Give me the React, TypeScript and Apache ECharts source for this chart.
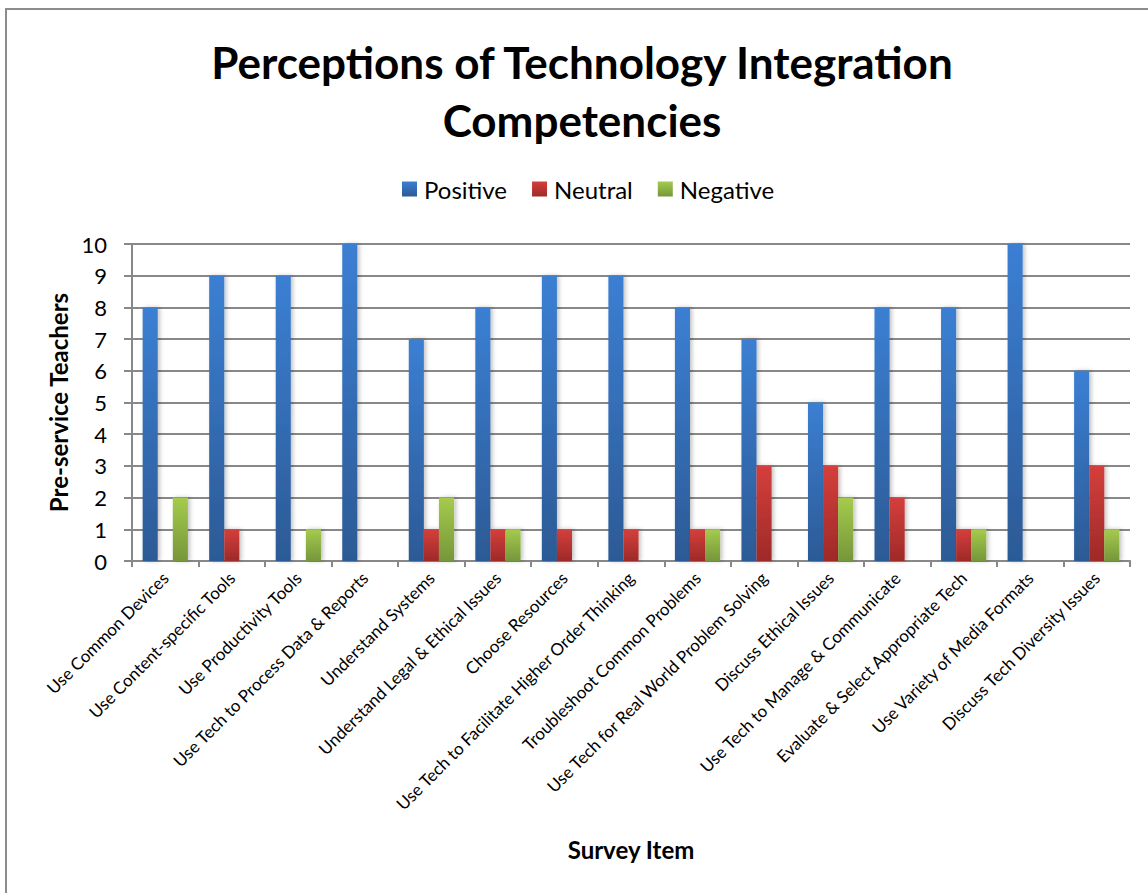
import React, { useEffect, useRef } from "react";
import * as echarts from "echarts";

const categories = [
  "Use Common Devices",
  "Use Content-specific Tools",
  "Use Productivity Tools",
  "Use Tech to Process Data & Reports",
  "Understand Systems",
  "Understand Legal & Ethical Issues",
  "Choose Resources",
  "Use Tech to Facilitate Higher Order Thinking",
  "Troubleshoot Common Problems",
  "Use Tech for Real World Problem Solving",
  "Discuss Ethical Issues",
  "Use Tech to Manage & Communicate",
  "Evaluate & Select Appropriate Tech",
  "Use Variety of Media Formats",
  "Discuss Tech Diversity Issues",
];
const positive = [8, 9, 9, 10, 7, 8, 9, 9, 8, 7, 5, 8, 8, 10, 6];
const neutral = [0, 1, 0, 0, 1, 1, 1, 1, 1, 3, 3, 2, 1, 0, 3];
const negative = [2, 0, 1, 0, 2, 1, 0, 0, 1, 0, 2, 0, 1, 0, 1];
const yTicks = [0, 1, 2, 3, 4, 5, 6, 7, 8, 9, 10];

const FONT = "Lato, 'Open Sans', sans-serif";

const grad = (top: string, bottom: string) =>
  new echarts.graphic.LinearGradient(0, 0, 0, 1, [
    { offset: 0, color: top },
    { offset: 1, color: bottom },
  ]);

export default function App() {
  const ref = useRef<HTMLDivElement>(null);
  useEffect(() => {
    if (!ref.current) return;
    const chart = echarts.init(ref.current, null, { renderer: "svg" });
    const barStyle = (top: string, bottom: string) => ({
      color: grad(top, bottom),
      shadowColor: "rgba(0,0,0,0.25)",
      shadowBlur: 4,
      shadowOffsetX: 2,
    });
    chart.setOption({
      animation: false,
      backgroundColor: "#fff",
      graphic: [
        {
          type: "rect",
          shape: { x: 6, y: 9, width: 1300, height: 1000 },
          style: { fill: "none", stroke: "#8c8c8c", lineWidth: 2 },
          silent: true,
        },
      ],
      title: {
        text: "Perceptions of Technology Integration\nCompetencies",
        left: 577,
        top: 28,
        textAlign: "center",
        textStyle: {
          fontFamily: FONT,
          fontWeight: "bold",
          fontSize: 44,
          lineHeight: 58,
          color: "#000",
        },
      },
      legend: {
        top: 172,
        left: 397,
        itemWidth: 15,
        itemHeight: 15,
        itemGap: 25,
        icon: "rect",
        textStyle: { fontFamily: FONT, fontSize: 24, color: "#000", padding: [0, 0, 0, 2] },
        data: ["Positive", "Neutral", "Negative"],
      },
      grid: { left: 132, right: 18, top: 244, bottom: 332, containLabel: false },
      xAxis: {
        type: "category",
        data: categories,
        name: "Survey Item",
        nameLocation: "middle",
        nameGap: 276,
        nameTextStyle: { fontFamily: FONT, fontWeight: "bold", fontSize: 24, color: "#000" },
        axisLine: { lineStyle: { color: "#888", width: 2 } },
        axisTick: { show: true, length: 6, lineStyle: { color: "#888", width: 2 } },
        axisLabel: {
          rotate: 45,
          interval: 0,
          margin: 14,
          fontFamily: FONT,
          fontSize: 17,
          color: "#000",
        },
      },
      yAxis: {
        type: "value",
        min: 0,
        max: 10,
        interval: 1,
        name: "Pre-service Teachers",
        nameLocation: "middle",
        nameGap: 62,
        nameTextStyle: { fontFamily: FONT, fontWeight: "bold", fontSize: 24, color: "#000" },
        axisLine: { show: true, lineStyle: { color: "#888", width: 2 } },
        axisTick: { show: true, length: 8, lineStyle: { color: "#888", width: 2 } },
        axisLabel: {
          fontFamily: FONT,
          fontSize: 22,
          color: "#000",
          margin: 25,
          formatter: (v: number) => (yTicks.includes(v) ? String(v) : ""),
        },
        splitLine: { show: true, lineStyle: { color: "#888", width: 2 } },
      },
      series: [
        {
          name: "Positive",
          type: "bar",
          data: positive,
          barGap: "0%",
          barCategoryGap: "32%",
          itemStyle: barStyle("#3B7FD3", "#2C5A95"),
        },
        {
          name: "Neutral",
          type: "bar",
          data: neutral,
          itemStyle: barStyle("#D43F3C", "#9E2A28"),
        },
        {
          name: "Negative",
          type: "bar",
          data: negative,
          itemStyle: barStyle("#A5CB4D", "#76963A"),
        },
      ],
    });
    return () => chart.dispose();
  }, []);
  return (
    <div
      ref={ref}
      style={{ position: "fixed", left: 0, top: 0, width: 1148, height: 893 }}
    />
  );
}
